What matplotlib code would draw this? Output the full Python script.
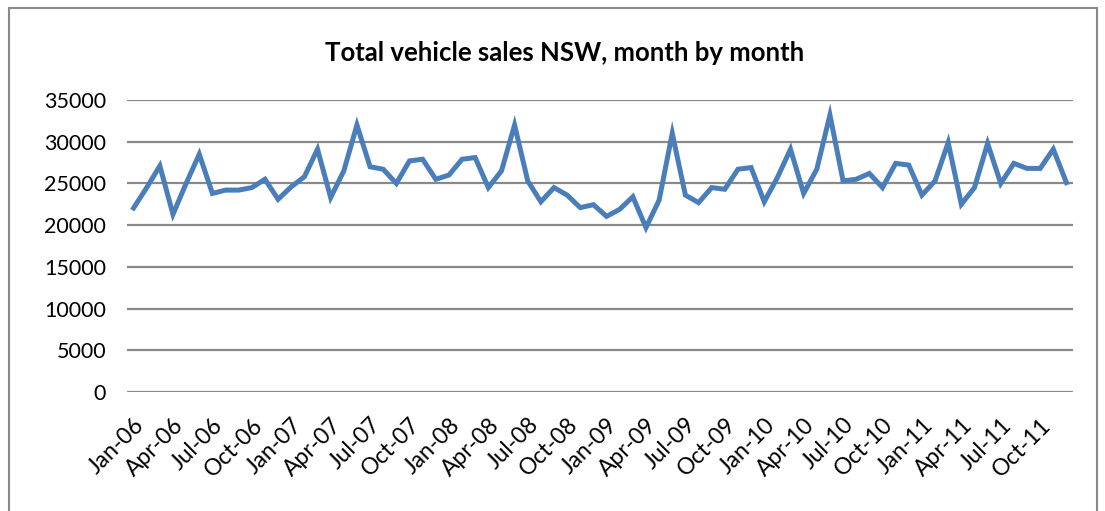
import matplotlib.pyplot as plt
import numpy as np
from matplotlib.patches import Rectangle

# monthly vehicle sales, Jan-06 .. Dec-11
months = [f"{m}-{y:02d}" for y in range(6, 12)
          for m in ["Jan", "Feb", "Mar", "Apr", "May", "Jun",
                    "Jul", "Aug", "Sep", "Oct", "Nov", "Dec"]]
sales = [
    22050, 24500, 27100, 21300, 25000, 28500, 23800, 24200, 24200, 24500, 25500, 23100,
    24600, 25800, 29100, 23300, 26500, 32000, 27000, 26700, 25000, 27700, 27900, 25500,
    26000, 27900, 28100, 24500, 26500, 32000, 25300, 22800, 24500, 23600, 22100, 22450,
    21050, 21900, 23400, 19700, 23000, 31000, 23600, 22700, 24500, 24300, 26700, 26900,
    22800, 25700, 29100, 23800, 26700, 33200, 25300, 25500, 26200, 24500, 27400, 27200,
    23600, 25300, 29900, 22500, 24500, 29800, 25000, 27400, 26800, 26800, 29100, 25100,
]
yticks = list(range(0, 35001, 5000))

plt.rcParams["font.family"] = ["Lato", "DejaVu Sans"]

fig = plt.figure(figsize=(11.05, 5.11), dpi=100)
ax = fig.add_axes([127 / 1105, 1 - 392 / 511, (1073 - 127) / 1105, (392 - 100) / 511])

x = np.arange(len(sales))
ax.plot(x, sales, color="#4a7ebb", linewidth=3.6, solid_joinstyle="miter")

ax.set_xlim(-0.5, len(sales) - 0.5)
ax.set_ylim(0, 35000)
ax.set_yticks(yticks)
ax.set_yticklabels([str(v) for v in yticks], fontsize=15.5)
ax.set_xticks(x[::3])
ax.set_xticklabels(months[::3], rotation=45, ha="right", rotation_mode="anchor", fontsize=16.5)
ax.tick_params(axis="both", length=0)
ax.tick_params(axis="y", pad=15)
ax.tick_params(axis="x", pad=16)
ax.grid(axis="y", color="#898989", linewidth=1.6)
ax.set_axisbelow(True)
for s in ax.spines.values():
    s.set_visible(False)

fig.text(565 / 1105, 1 - 53 / 511, "Total vehicle sales NSW, month by month",
         ha="center", va="center", fontsize=18.5, fontweight="bold")

# outer chart border
fig.patches.append(Rectangle((9 / 1105, -0.01), (1097 - 9) / 1105, 1 - 8 / 511 + 0.01,
                             transform=fig.transFigure, fill=False,
                             edgecolor="#898989", linewidth=1.5))

fig.savefig("out.png", dpi=100)
